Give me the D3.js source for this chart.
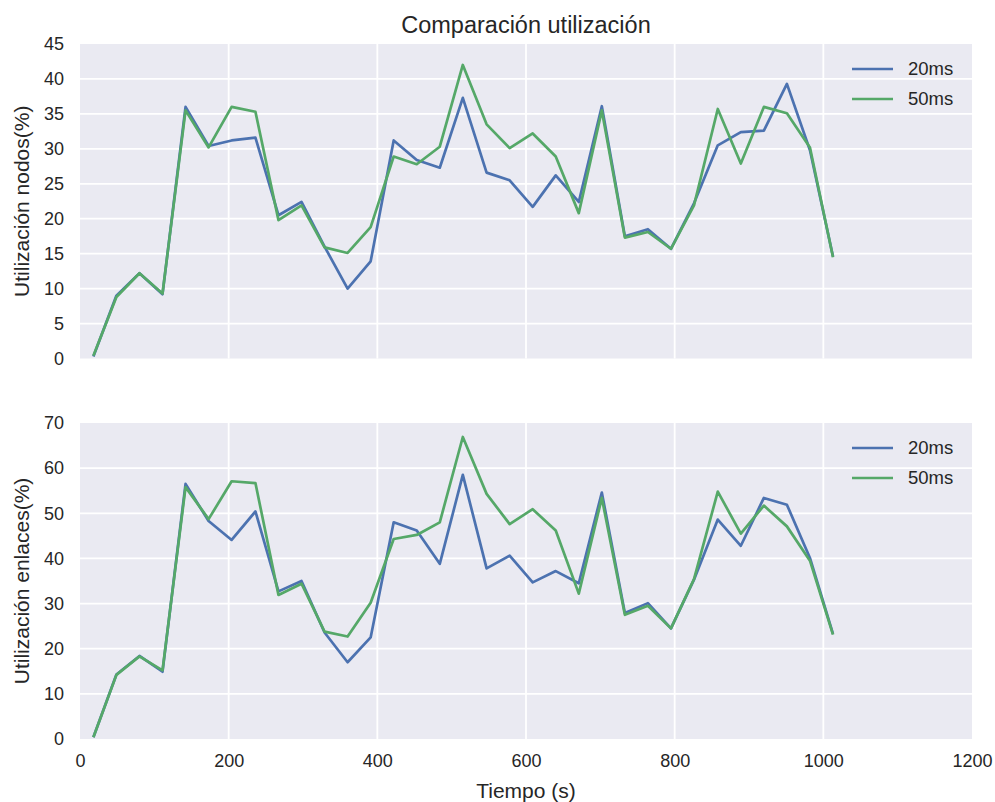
<!DOCTYPE html>
<html>
<head>
<meta charset="utf-8">
<script src="https://cdn.jsdelivr.net/npm/d3@7"></script>
<style>
  body { margin: 0; background: #fff; }
  text { font-family: "Liberation Sans", Arial, sans-serif; fill: #262626; }
</style>
</head>
<body>
<svg id="chart" width="995" height="802"></svg>
<script>
// Sample times (s)
const tiempos = [18, 49, 80, 111, 142, 173, 204, 236, 267, 298, 329, 360, 391, 422, 453, 484, 515,
                 547, 578, 609, 640, 671, 702, 733, 764, 795, 826, 858, 889, 920, 951, 982, 1013];

// Node utilization (%)
const nodos20 = [0.3, 9.0, 12.2, 9.2, 36.0, 30.4, 31.2, 31.6, 20.5, 22.4, 16.0, 10.0, 13.9, 31.2, 28.4, 27.3, 37.3,
                 26.6, 25.5, 21.7, 26.2, 22.4, 36.1, 17.5, 18.5, 15.7, 22.2, 30.5, 32.4, 32.6, 39.3, 29.8, 14.6];
const nodos50 = [0.4, 8.8, 12.2, 9.3, 35.5, 30.2, 36.0, 35.3, 19.8, 21.9, 15.9, 15.1, 18.8, 28.9, 27.8, 30.3, 42.0,
                 33.5, 30.1, 32.2, 28.9, 20.8, 35.5, 17.3, 18.1, 15.7, 21.9, 35.7, 27.9, 36.0, 35.1, 30.2, 14.5];

// Link utilization (%)
const enlaces20 = [0.4, 14.3, 18.4, 14.9, 56.5, 48.3, 44.1, 50.4, 32.7, 35.0, 23.6, 17.0, 22.5, 48.0, 46.2, 38.8, 58.5,
                   37.8, 40.6, 34.7, 37.2, 34.5, 54.6, 27.9, 30.1, 24.5, 35.3, 48.6, 42.8, 53.4, 51.9, 40.1, 23.3];
const enlaces50 = [0.4, 14.2, 18.3, 15.2, 55.8, 48.7, 57.1, 56.7, 31.9, 34.4, 23.8, 22.7, 30.2, 44.3, 45.2, 48.0, 66.9,
                   54.3, 47.6, 50.9, 46.2, 32.2, 53.4, 27.5, 29.5, 24.5, 35.4, 54.8, 45.5, 51.7, 47.1, 39.5, 23.1];

const seriesNames = ["20ms", "50ms"];
const colors = ["#4C72B0", "#55A868"];
const xTicks = [0, 200, 400, 600, 800, 1000, 1200];
const yTicksNodos = [0, 5, 10, 15, 20, 25, 30, 35, 40, 45];
const yTicksEnlaces = [0, 10, 20, 30, 40, 50, 60, 70];

const svg = d3.select("#chart");
const left = 80, right = 972;
const fmt = d3.format("d");
const tickSize = 18, labelSize = 21, titleSize = 23.5, legendSize = 18.5;

const x = d3.scaleLinear().domain([0, 1200]).range([left, right]);

const panels = [
  { top: 44, bottom: 358.5, yMax: 45, ticks: yTicksNodos, label: "Utilización nodos(%)",
    data: [nodos20, nodos50], xLabels: false },
  { top: 423, bottom: 739, yMax: 70, ticks: yTicksEnlaces, label: "Utilización enlaces(%)",
    data: [enlaces20, enlaces50], xLabels: true }
];

panels.forEach(p => {
  const y = d3.scaleLinear().domain([0, p.yMax]).range([p.bottom, p.top]);
  const g = svg.append("g");

  g.append("rect")
    .attr("x", left).attr("y", p.top)
    .attr("width", right - left).attr("height", p.bottom - p.top)
    .attr("fill", "#EAEAF2");

  // grid
  g.selectAll(".gx").data(xTicks.slice(1, -1)).join("line")
    .attr("x1", d => x(d)).attr("x2", d => x(d))
    .attr("y1", p.top).attr("y2", p.bottom)
    .attr("stroke", "#fff").attr("stroke-width", 1.8);
  g.selectAll(".gy").data(p.ticks.slice(1, -1)).join("line")
    .attr("x1", left).attr("x2", right)
    .attr("y1", d => y(d)).attr("y2", d => y(d))
    .attr("stroke", "#fff").attr("stroke-width", 1.8);

  // y axis tick labels
  const yAxis = d3.axisLeft(y).tickValues(p.ticks).tickFormat(fmt).tickSize(0).tickPadding(16);
  const ya = g.append("g").attr("transform", `translate(${left},0)`).call(yAxis);
  ya.select(".domain").remove();
  ya.selectAll("text").attr("font-size", tickSize).attr("fill", "#262626");

  if (p.xLabels) {
    const xAxis = d3.axisBottom(x).tickValues(xTicks).tickFormat(fmt).tickSize(0).tickPadding(15);
    const xa = g.append("g").attr("transform", `translate(0,${p.bottom})`).call(xAxis);
    xa.select(".domain").remove();
    xa.selectAll("text").attr("font-size", tickSize).attr("fill", "#262626");
  }

  // y label
  g.append("text")
    .attr("transform", `translate(29,${(p.top + p.bottom) / 2}) rotate(-90)`)
    .attr("text-anchor", "middle")
    .attr("font-size", labelSize)
    .text(p.label);

  // lines
  const line = d3.line().x((d, i) => x(tiempos[i])).y(d => y(d));
  p.data.forEach((vals, k) => {
    g.append("path").datum(vals)
      .attr("d", line)
      .attr("fill", "none")
      .attr("stroke", colors[k])
      .attr("stroke-width", 2.7)
      .attr("stroke-linejoin", "round");
  });

  // legend
  const lg = g.append("g").attr("transform", `translate(852,${p.top + 25})`);
  seriesNames.forEach((name, k) => {
    lg.append("line").attr("x1", 0).attr("x2", 41)
      .attr("y1", k * 30).attr("y2", k * 30)
      .attr("stroke", colors[k]).attr("stroke-width", 2.7);
    lg.append("text").attr("x", 56).attr("y", k * 30).attr("dy", "0.35em")
      .attr("font-size", legendSize).text(name);
  });
});

// title
svg.append("text")
  .attr("x", (left + right) / 2).attr("y", 33)
  .attr("text-anchor", "middle")
  .attr("font-size", titleSize)
  .text("Comparación utilización");

// x label
svg.append("text")
  .attr("x", (left + right) / 2).attr("y", 798)
  .attr("text-anchor", "middle")
  .attr("font-size", labelSize)
  .text("Tiempo (s)");
</script>
</body>
</html>
